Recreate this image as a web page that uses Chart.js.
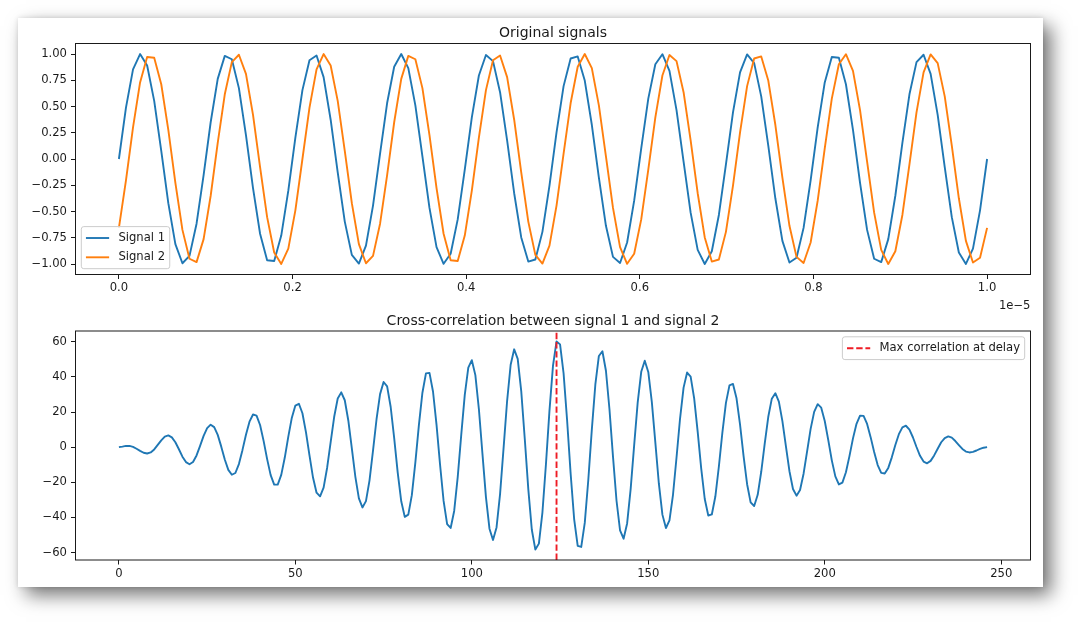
<!DOCTYPE html>
<html>
<head>
<meta charset="utf-8">
<script src="https://cdn.jsdelivr.net/npm/chart.js@4.4.1/dist/chart.umd.min.js"></script>
<style>
  html, body { margin: 0; padding: 0; background: #ffffff; width: 1080px; height: 624px; overflow: hidden; }
  #card { position: absolute; left: 18px; top: 18px; width: 1025px; height: 569px; background: #ffffff;
          box-shadow: 8px 8px 18px rgba(0,0,0,0.55), 0 0 5px rgba(0,0,0,0.12); }
  canvas { position: absolute; left: 0; }
  #c1 { top: 0; }
  #c2 { top: 312px; }
</style>
</head>
<body>
<div id="card"></div>
<canvas id="c1" width="1080" height="312"></canvas>
<canvas id="c2" width="1080" height="312"></canvas>
<script>
// ---------------- data ----------------
const signal1 = [
  0, 0.489, 0.853, 0.999, 0.890, 0.554, 0.077, -0.421, -0.811, -0.993,
  -0.923, -0.616, -0.153, 0.350, 0.763, 0.982, 0.950, 0.675, 0.228, -0.277,
  -0.712, -0.964, -0.971, -0.729, -0.302, 0.203, 0.656, 0.941, 0.986, 0.780,
  0.374, -0.127, -0.596, -0.913, -0.996, -0.825, -0.444, 0.051, 0.533, 0.879,
  1.000, 0.866, 0.511, 0.026, -0.466, -0.839, -0.998, -0.902, -0.575, -0.102,
  0.397, 0.795, 0.990, 0.932, 0.636, 0.178, -0.326, -0.747, -0.977, -0.957,
  -0.694, -0.253, 0.253, 0.694, 0.957, 0.977, 0.747, 0.326, -0.178, -0.636,
  -0.932, -0.990, -0.795, -0.397, 0.102, 0.575, 0.902, 0.998, 0.839, 0.466,
  -0.026, -0.511, -0.866, -1.000, -0.879, -0.533, -0.051, 0.444, 0.825, 0.996,
  0.913, 0.596, 0.127, -0.374, -0.780, -0.986, -0.941, -0.656, -0.203, 0.302,
  0.729, 0.971, 0.964, 0.712, 0.277, -0.228, -0.675, -0.950, -0.982, -0.763,
  -0.350, 0.153, 0.616, 0.923, 0.993, 0.811, 0.421, -0.077, -0.554, -0.890,
  -0.999, -0.853, -0.489, 0
];
const signal2 = [
  -0.656, -0.203, 0.302, 0.729, 0.971, 0.964, 0.712, 0.277, -0.228, -0.675,
  -0.950, -0.982, -0.763, -0.350, 0.153, 0.616, 0.923, 0.993, 0.811, 0.421,
  -0.077, -0.554, -0.890, -0.999, -0.853, -0.489, 0, 0.489, 0.853, 0.999,
  0.890, 0.554, 0.077, -0.421, -0.811, -0.993, -0.923, -0.616, -0.153, 0.350,
  0.763, 0.982, 0.950, 0.675, 0.228, -0.277, -0.712, -0.964, -0.971, -0.729,
  -0.302, 0.203, 0.656, 0.941, 0.986, 0.780, 0.374, -0.127, -0.596, -0.913,
  -0.996, -0.825, -0.444, 0.051, 0.533, 0.879, 1.000, 0.866, 0.511, 0.026,
  -0.466, -0.839, -0.998, -0.902, -0.575, -0.102, 0.397, 0.795, 0.990, 0.932,
  0.636, 0.178, -0.326, -0.747, -0.977, -0.957, -0.694, -0.253, 0.253, 0.694,
  0.957, 0.977, 0.747, 0.326, -0.178, -0.636, -0.932, -0.990, -0.795, -0.397,
  0.102, 0.575, 0.902, 0.998, 0.839, 0.466, -0.026, -0.511, -0.866, -1.000,
  -0.879, -0.533, -0.051, 0.444, 0.825, 0.996, 0.913, 0.596, 0.127, -0.374,
  -0.780, -0.986, -0.941, -0.656
];
const crossCorr = [
  0.0, 0.3, 0.7, 0.7, 0.2, -0.9, -2.1, -3.2, -3.6, -3.0,
  -1.3, 1.3, 3.9, 6.0, 6.7, 5.6, 2.8, -1.2, -5.4, -8.5,
  -9.7, -8.4, -4.7, 0.7, 6.4, 10.8, 12.8, 11.4, 7.0, 0.3,
  -7.0, -12.9, -15.7, -14.7, -9.6, -1.7, 7.1, 14.5, 18.6, 18.0,
  12.6, 3.6, -6.8, -15.9, -21.3, -21.3, -15.8, -5.9, 6.0, 16.8,
  23.7, 24.7, 19.3, 8.6, -4.7, -17.3, -25.9, -28.0, -23.0, -11.7,
  2.9, 17.3, 27.7, 31.2, 26.7, 15.2, -0.7, -16.9, -29.2, -34.3,
  -30.7, -19.0, -2.0, 15.9, 30.2, 37.1, 34.6, 23.0, 5.2, -14.5,
  -30.8, -39.7, -38.4, -27.3, -8.7, 12.5, 31.0, 42.0, 42.3, 31.7,
  12.7, -10.0, -30.6, -43.8, -46.0, -36.3, -17.1, 7.0, 29.8, 45.3,
  49.5, 41.0, 21.7, -3.5, -28.4, -46.4, -52.8, -45.7, -26.7, -0.4,
  26.4, 46.9, 55.7, 50.3, 31.9, 4.8, -23.9, -47.0, -58.3, -54.9,
  -37.2, -9.7, 20.8,
  46.4, 60.2, 58.5, 42.0, 15.2, -15.1, -41.1, -56.2, -56.8, -43.1,
  -18.7, 10.0, 35.7, 51.9, 54.6, 43.5, 21.6, -5.4, -30.5, -47.4,
  -52.1, -43.4, -23.9, 1.2, 25.5, 42.9, 49.2, 42.8, 25.8, 2.6,
  -20.8, -38.4, -46.0, -41.7, -27.1, -5.9, 16.3, 33.9, 42.5, 40.2,
  27.8, 8.7, -12.2, -29.5, -38.9, -38.3, -28.1, -11.0, 8.4, 25.2,
  35.2, 36.0, 27.8, 12.8, -5.1, -21.1, -31.4, -33.5, -27.1, -14.0,
  2.1, 17.3, 27.6, 30.7, 25.9, 14.8, 0.4, -13.7, -23.8, -27.6,
  -24.4, -15.1, -2.4, 10.4, 20.1, 24.5, 22.5, 14.9, 4.0, -7.5,
  -16.6, -21.2, -20.2, -14.3, -5.1, 5.0, 13.3, 17.9, 17.8, 13.2,
  5.7, -2.8, -10.2, -14.6, -15.0, -11.8, -5.8, 1.2, 7.4, 11.3,
  12.2, 10.0, 5.5, 0.1, -4.9, -8.2, -9.2, -7.8, -4.7, -0.9,
  2.8, 5.2, 6.1, 5.4, 3.5, 1.2, -1.0, -2.5, -3.0, -2.7,
  -1.9, -1.0, -0.3, 0.0
];
const T_END = 1.0;                 // end time, in units of 1e-5 s
const topXTicks = [0, 0.2, 0.4, 0.6, 0.8, 1.0];
const topYTicks = [-1, -0.75, -0.5, -0.25, 0, 0.25, 0.5, 0.75, 1];
const botXTicks = [0, 50, 100, 150, 200, 250];
const botYTicks = [-60, -40, -20, 0, 20, 40, 60];
const seriesLabels = ['Signal 1', 'Signal 2', 'Max correlation at delay'];
const titles = ['Original signals', 'Cross-correlation between signal 1 and signal 2'];

// ---------------- styling ----------------
const TEXT = '#1a1a1a';
const FS = 11.6;
const FAMILY = '"DejaVu Sans", "Liberation Sans", sans-serif';
const LW = 1.9;
const minus = s => s.replace(/-/g, '\u2212');

function padRange(lo, hi) { const r = hi - lo; return [lo - 0.05 * r, hi + 0.05 * r]; }

function makeAxis(min, max, ticks, fmt, isX, size) {
  return {
    type: 'linear', min, max,
    afterBuildTicks: s => { s.ticks = ticks.map(v => ({ value: v })); },
    afterFit: s => { if (isX) s.height = size; else s.width = size; },
    grid: { drawOnChartArea: false, drawTicks: true, tickLength: 4.5, color: TEXT, lineWidth: 1 },
    border: { display: false },
    ticks: {
      color: TEXT, font: { family: FAMILY, size: FS }, padding: isX ? 2.5 : 4,
      autoSkip: false, maxRotation: 0, minRotation: 0,
      callback: v => minus(fmt(v))
    }
  };
}

const framePlugin = {
  id: 'frame',
  afterDraw(chart, args, o) {
    const { ctx, chartArea: a } = chart;
    ctx.save();
    ctx.strokeStyle = TEXT; ctx.lineWidth = 1;
    ctx.strokeRect(a.left, a.top, a.right - a.left, a.bottom - a.top);
    ctx.fillStyle = TEXT;
    ctx.font = `14px ${FAMILY}`; ctx.textAlign = 'center'; ctx.textBaseline = 'alphabetic';
    ctx.fillText(o.title, (a.left + a.right) / 2, a.top - 6.5);
    if (o.offset) {
      ctx.font = `${FS}px ${FAMILY}`; ctx.textAlign = 'right';
      ctx.fillText(o.offset, a.right, a.bottom + 34);
    }
    ctx.restore();
  }
};

const legendPlugin = {
  id: 'mplLegend',
  afterDraw(chart, args, o) {
    const { ctx, chartArea: a } = chart;
    const items = chart.data.datasets.filter(d => d.label);
    ctx.save();
    ctx.font = `${FS}px ${FAMILY}`;
    const pad = 0.4 * FS, handle = 2 * FS, hpad = 0.8 * FS, axpad = 0.5 * FS, rowH = 13.5, sp = 0.5 * FS;
    const tw = Math.max(...items.map(d => ctx.measureText(d.label).width));
    const w = pad * 2 + handle + hpad + tw;
    const h = pad * 2 + items.length * rowH + (items.length - 1) * sp;
    let x, y;
    if (o.corner === 'lowerleft') { x = a.left + axpad; y = a.bottom - axpad - h; }
    else { x = a.right - axpad - w; y = a.top + axpad; }
    const r = 2.5;
    ctx.beginPath();
    ctx.moveTo(x + r, y); ctx.lineTo(x + w - r, y); ctx.arcTo(x + w, y, x + w, y + r, r);
    ctx.lineTo(x + w, y + h - r); ctx.arcTo(x + w, y + h, x + w - r, y + h, r);
    ctx.lineTo(x + r, y + h); ctx.arcTo(x, y + h, x, y + h - r, r);
    ctx.lineTo(x, y + r); ctx.arcTo(x, y, x + r, y, r); ctx.closePath();
    ctx.fillStyle = 'rgba(255,255,255,0.8)'; ctx.fill();
    ctx.strokeStyle = '#cccccc'; ctx.lineWidth = 1; ctx.stroke();
    items.forEach((d, i) => {
      const cy = y + pad + i * (rowH + sp) + rowH / 2;
      ctx.beginPath();
      ctx.setLineDash(d.borderDash || []);
      ctx.strokeStyle = d.borderColor; ctx.lineWidth = d.borderWidth;
      ctx.moveTo(x + pad, cy); ctx.lineTo(x + pad + handle, cy); ctx.stroke();
      ctx.setLineDash([]);
      ctx.fillStyle = TEXT; ctx.textAlign = 'left'; ctx.textBaseline = 'middle';
      ctx.fillText(d.label, x + pad + handle + hpad, cy);
    });
    ctx.restore();
  }
};

function lineDs(label, pts, color, order, dash) {
  return {
    label, data: pts, borderColor: color, backgroundColor: color, borderWidth: LW,
    borderDash: dash || [], showLine: true, pointRadius: 0, pointHoverRadius: 0,
    tension: 0, fill: false, borderJoinStyle: 'round', order
  };
}

// ---------------- top chart: original signals ----------------
const N = signal1.length;
const timeAxis = signal1.map((_, i) => i * T_END / (N - 1));
const [x1min, x1max] = padRange(0, T_END);
const [y1min, y1max] = padRange(Math.min(...signal1, ...signal2), Math.max(...signal1, ...signal2));

new Chart(document.getElementById('c1'), {
  type: 'scatter',
  data: {
    datasets: [
      lineDs(seriesLabels[0], signal1.map((v, i) => ({ x: timeAxis[i], y: v })), '#1f77b4', 2),
      lineDs(seriesLabels[1], signal2.map((v, i) => ({ x: timeAxis[i], y: v })), '#ff7f0e', 1)
    ]
  },
  options: {
    responsive: false, animation: false, events: [],
    layout: { padding: { left: 0, right: 49.5, top: 43.5, bottom: 0 } },
    plugins: {
      legend: { display: false }, tooltip: { enabled: false },
      frame: { title: titles[0], offset: '1e\u22125' },
      mplLegend: { corner: 'lowerleft' }
    },
    scales: {
      x: makeAxis(x1min, x1max, topXTicks, v => v.toFixed(1), true, 312 - 274.5),
      y: makeAxis(y1min, y1max, topYTicks, v => v.toFixed(2), false, 75.5)
    }
  },
  plugins: [framePlugin, legendPlugin]
});

// ---------------- bottom chart: cross-correlation ----------------
const lags = crossCorr.map((_, i) => i);
const peak = Math.max(...crossCorr);
const peakLag = lags[crossCorr.indexOf(peak)];
const [x2min, x2max] = padRange(0, crossCorr.length - 1);
const [y2min, y2max] = padRange(Math.min(...crossCorr), peak);

new Chart(document.getElementById('c2'), {
  type: 'scatter',
  data: {
    datasets: [
      lineDs('', crossCorr.map((v, i) => ({ x: lags[i], y: v })), '#1f77b4', 2),
      lineDs(seriesLabels[2], [{ x: peakLag, y: y2min }, { x: peakLag, y: y2max }], '#ee1c25', 1, [6.4, 2.8])
    ]
  },
  options: {
    responsive: false, animation: false, events: [],
    layout: { padding: { left: 0, right: 49.5, top: 19, bottom: 0 } },
    plugins: {
      legend: { display: false }, tooltip: { enabled: false },
      frame: { title: titles[1] },
      mplLegend: { corner: 'upperright' }
    },
    scales: {
      x: makeAxis(x2min, x2max, botXTicks, v => String(v), true, 312 - 248),
      y: makeAxis(y2min, y2max, botYTicks, v => String(v), false, 75.5)
    }
  },
  plugins: [framePlugin, legendPlugin]
});
</script>
</body>
</html>
